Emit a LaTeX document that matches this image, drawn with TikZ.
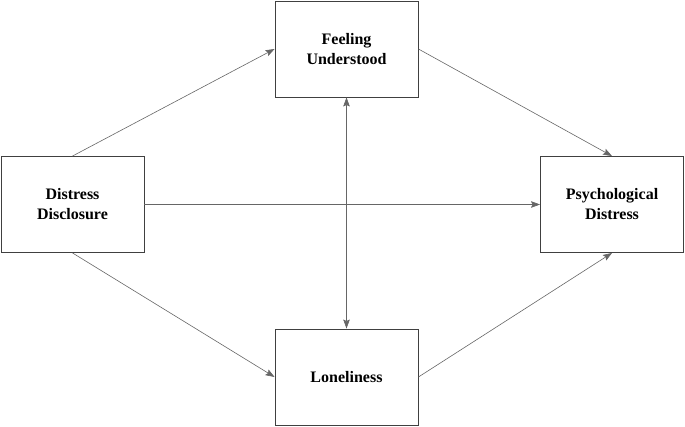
\documentclass[tikz,border=0pt]{standalone}
\usepackage{fontspec}
\setmainfont{Liberation Serif}
\usetikzlibrary{arrows.meta}

\tikzset{
    kasten/.style={draw=black!75, line width=0.9pt, minimum width=143pt, minimum height=96pt,
        inner sep=0pt, align=center, font=\bfseries\fontsize{16}{20}\selectfont},
    pfeil/.style={draw=black!60, line width=0.6pt, -{Stealth[length=9pt,width=6.5pt,inset=1.5pt]}}
}

\begin{document}
\begin{tikzpicture}[x=1pt, y=1pt]
        \useasboundingbox (0,0) rectangle (685,426);

        % Kästen
        \node[kasten] (dd) at (72.5,221.5) {Distress\\Disclosure};
        \node[kasten] (fu) at (346.5,377) {Feeling\\Understood};
        \node[kasten] (lon) at (346.5,49) {Loneliness};
        \node[kasten] (pd) at (612,221.5) {Psychological\\Distress};

        % Pfade über Feeling Understood
        \draw[pfeil] (dd.north) -- (fu.west);
        \draw[pfeil] (fu.east) -- (pd.north);

        % direkter Pfad
        \draw[pfeil] (dd.east) -- (pd.west);

        % Pfade über Loneliness
        \draw[pfeil] (dd.south) -- (lon.west);
        \draw[pfeil] (lon.east) -- (pd.south);

        % Korrelation
        \draw[pfeil, {Stealth[length=9pt,width=6.5pt,inset=1.5pt]}-{Stealth[length=9pt,width=6.5pt,inset=1.5pt]}] (fu.south) -- (lon.north);

    \end{tikzpicture}
\end{document}
